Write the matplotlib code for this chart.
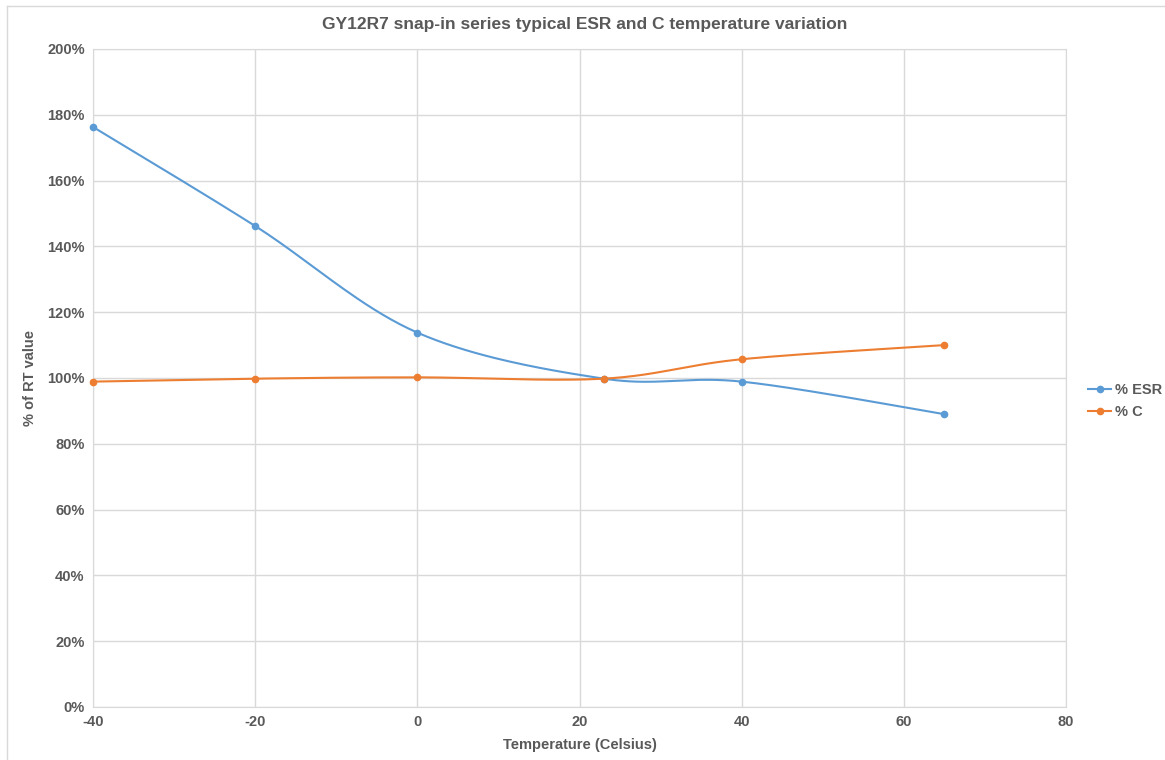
import numpy as np
import matplotlib
matplotlib.use("Agg")
import matplotlib.pyplot as plt
from matplotlib.lines import Line2D

temps = [-40, -20, 0, 23, 40, 65]
esr_pct = [176.3, 146.2, 113.8, 99.8, 98.9, 89.0]
c_pct = [98.9, 99.8, 100.2, 99.8, 105.7, 110.0]
series_names = ["% ESR", "% C"]
colors = ["#5B9BD5", "#ED7D31"]
title = "GY12R7 snap-in series typical ESR and C temperature variation"

def excel_smooth(x, y, n=40):
    x = np.asarray(x, float); y = np.asarray(y, float)
    px, py = [], []
    m = len(x)
    for i in range(m - 1):
        i0 = max(i - 1, 0); i3 = min(i + 2, m - 1)
        p0 = np.array([x[i], y[i]]); p3 = np.array([x[i + 1], y[i + 1]])
        c1 = p0 + (np.array([x[i + 1], y[i + 1]]) - np.array([x[i0], y[i0]])) / 6
        c2 = p3 - (np.array([x[i3], y[i3]]) - np.array([x[i], y[i]])) / 6
        t = np.linspace(0, 1, n)[:, None]
        pts = (1 - t) ** 3 * p0 + 3 * (1 - t) ** 2 * t * c1 + 3 * (1 - t) * t ** 2 * c2 + t ** 3 * p3
        px.extend(pts[:, 0]); py.extend(pts[:, 1])
    return np.array(px), np.array(py)

plt.rcParams['font.family'] = ['Liberation Sans', 'DejaVu Sans']
plt.rcParams['axes.unicode_minus'] = False
fig = plt.figure(figsize=(11.65, 7.6), dpi=100)
ax = fig.add_axes([93 / 1165, 1 - 707 / 760, (1066 - 93) / 1165, (707 - 49) / 760])

txt = "#595959"
for vals, name, col in zip([esr_pct, c_pct], series_names, colors):
    sx, sy = excel_smooth(temps, vals)
    ax.plot(sx, sy, color=col, lw=1.5, zorder=3, clip_on=False)
    ax.plot(temps, vals, 'o', color=col, ms=4.5, zorder=4, clip_on=False)

ax.set_xlim(-40, 80)
ax.set_ylim(0, 200)
ax.set_xticks(np.arange(-40, 81, 20))
ax.set_yticks(np.arange(0, 201, 20))
ax.set_yticklabels([f"{v}%" for v in range(0, 201, 20)])
ax.grid(True, color="#D9D9D9", lw=1)
ax.set_axisbelow(True)
for s in ax.spines.values():
    s.set_color("#D9D9D9")
ax.tick_params(length=0, labelsize=10.5, colors=txt, pad=6)
for lab in ax.get_xticklabels() + ax.get_yticklabels():
    lab.set_fontweight('bold')

fig.text(585 / 1165, 1 - 25 / 760, title, ha='center', va='center', fontsize=12.5, fontweight='bold', color=txt)
fig.text(580 / 1165, 1 - 745 / 760, "Temperature (Celsius)", ha='center', va='center', fontsize=10.5, fontweight='bold', color=txt)
fig.text(30 / 1165, 1 - 378 / 760, "% of RT value", ha='center', va='center', rotation=90, fontsize=10.5, fontweight='bold', color=txt)

handles = [Line2D([0], [0], color=c, lw=1.5, marker='o', ms=4.5) for c in colors]
leg = fig.legend(handles, series_names, loc='center left', bbox_to_anchor=(1088 / 1165, 1 - 401 / 760),
                 frameon=False, fontsize=10.5, handlelength=1.6, handletextpad=0.25, labelspacing=0.6,
                 borderpad=0, borderaxespad=0)
for t in leg.get_texts():
    t.set_color(txt); t.set_fontweight('bold')

fig.add_artist(Line2D([7 / 1165, 7 / 1165], [0, 1 - 6 / 760], color="#D9D9D9", lw=1, transform=fig.transFigure))
fig.add_artist(Line2D([7 / 1165, 1], [1 - 6 / 760, 1 - 6 / 760], color="#D9D9D9", lw=1, transform=fig.transFigure))

fig.savefig("out.png", dpi=100)
